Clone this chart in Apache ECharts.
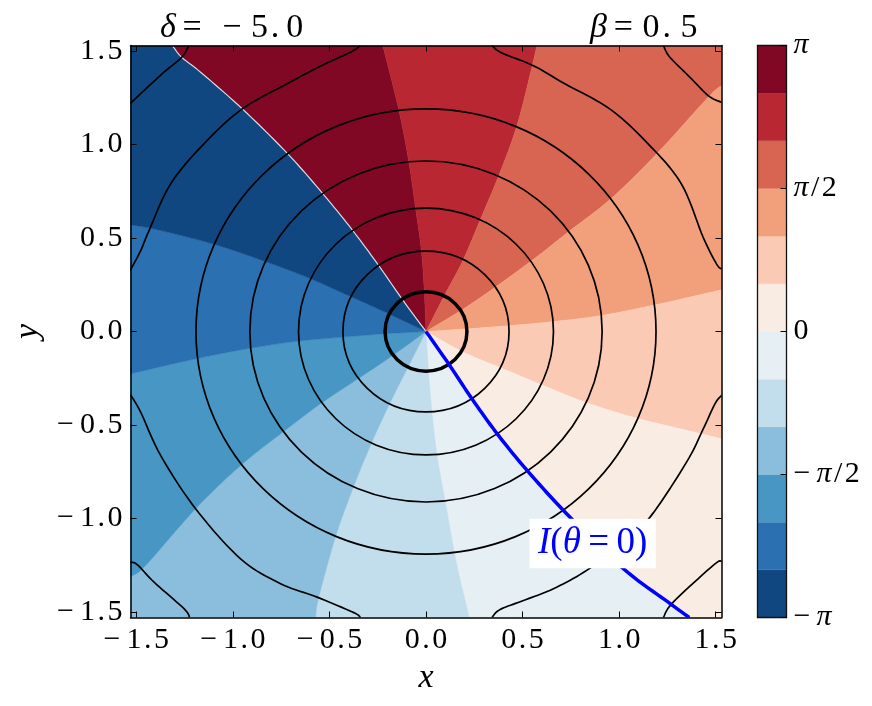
<!DOCTYPE html>
<html>
<head>
<meta charset="utf-8">
<title>phase plot</title>
<script src="https://cdn.jsdelivr.net/npm/echarts@6/dist/echarts.min.js"></script>
<style>
  html, body { margin: 0; padding: 0; background: #fff; }
  #chart { width: 872px; height: 706px; }
</style>
</head>
<body>
<div id="chart"></div>
<script>
var FONT = '"Liberation Serif", serif';
var LIM = 1.53;

var axisTicks = [-1.5, -1.0, -0.5, 0.0, 0.5, 1.0, 1.5];
var axisTickLabels = ['\u22121.5', '\u22121.0', '\u22120.5', '0.0', '0.5', '1.0', '1.5'];

var phaseLevels = [-3.1416, -2.618, -2.0944, -1.5708, -1.0472, -0.5236, 0, 0.5236, 1.0472, 1.5708, 2.0944, 2.618, 3.1416];
var phaseColors = ['#114780', '#2b70b1', '#4896c4', '#8abedc', '#c2ddec', '#e6eff4', '#f9ece3', '#facab4', '#f2a07c', '#d86551', '#b82732', '#800824'];
var phaseTicks = [-3.1416, -1.5708, 0, 1.5708, 3.1416];
var phaseTickLabels = ['\u2212\u2009{i|\u03c0}', '\u2212\u2009{i|\u03c0}\u200a/\u200a2', '0', '{i|\u03c0}\u200a/\u200a2', '{i|\u03c0}'];

// phase level curves, clockwise from the branch cut
var branchCut = [[0, 0], [-0.116, 0.162], [-0.245, 0.353], [-0.383, 0.545], [-0.538, 0.742], [-0.719, 0.954], [-0.951, 1.191], [-1.167, 1.387], [-1.265, 1.467], [-1.313, 1.53]];
var level5pi6 = [[0, 0], [-0.009, 0.219], [-0.024, 0.433], [-0.055, 0.665], [-0.09, 0.914], [-0.142, 1.191], [-0.224, 1.53]];
var level4pi6 = [[0, 0], [0.1, 0.202], [0.191, 0.38], [0.284, 0.606], [0.379, 0.84], [0.471, 1.102], [0.548, 1.413], [0.574, 1.53]];
var level3pi6 = [[0, 0], [0.194, 0.121], [0.358, 0.237], [0.56, 0.389], [0.746, 0.54], [0.957, 0.71], [1.194, 0.95], [1.461, 1.253], [1.53, 1.316]];
var level2pi6 = [[0, 0], [0.212, 0.014], [0.436, 0.032], [0.66, 0.053], [0.91, 0.086], [1.194, 0.144], [1.53, 0.223]];
var level1pi6 = [[0, 0], [0.194, -0.111], [0.401, -0.2], [0.608, -0.289], [0.832, -0.381], [1.091, -0.464], [1.332, -0.524], [1.53, -0.574]];
var level0 = [[0, 0], [0.117, -0.173], [0.238, -0.36], [0.375, -0.556], [0.531, -0.752], [0.737, -0.984], [1.022, -1.269], [1.254, -1.448], [1.363, -1.53]];
var levelM1pi6 = [[0, 0], [0.013, -0.218], [0.031, -0.432], [0.057, -0.663], [0.1, -0.913], [0.16, -1.251], [0.224, -1.53]];
var levelM2pi6 = [[0, 0], [-0.098, -0.2], [-0.193, -0.396], [-0.288, -0.61], [-0.379, -0.841], [-0.469, -1.1], [-0.555, -1.421], [-0.572, -1.53]];
var levelM3pi6 = [[0, 0], [-0.185, -0.137], [-0.348, -0.25], [-0.547, -0.387], [-0.741, -0.538], [-0.96, -0.717], [-1.193, -0.948], [-1.451, -1.251], [-1.53, -1.311]];
var levelM4pi6 = [[0, 0], [-0.21, -0.012], [-0.434, -0.03], [-0.667, -0.052], [-0.908, -0.089], [-1.193, -0.146], [-1.53, -0.226]];
var levelM5pi6 = [[0, 0], [-0.21, 0.103], [-0.403, 0.193], [-0.615, 0.29], [-0.836, 0.376], [-1.103, 0.469], [-1.408, 0.549], [-1.53, 0.57]];

var regionEdges = [branchCut, level5pi6, level4pi6, level3pi6, level2pi6, level1pi6, level0, levelM1pi6, levelM2pi6, levelM3pi6, levelM4pi6, levelM5pi6, branchCut];
var regionColors = ['#800824', '#b82732', '#d86551', '#f2a07c', '#facab4', '#f9ece3', '#e6eff4', '#c2ddec', '#8abedc', '#4896c4', '#2b70b1', '#114780'];
// frame corner that a region has to go round, if any
var regionCorners = [[], [], [[LIM, LIM]], [], [], [[LIM, -LIM]], [], [], [[-LIM, -LIM]], [], [], [[-LIM, LIM]]];

// amplitude contours
var thickRadius = [0.212];
var contourRadii = [0.43, 0.66, 0.912, 1.191];
var contourTopLeft = [[-0.34, 1.53], [-0.391, 1.494], [-0.547, 1.419], [-0.719, 1.325], [-0.951, 1.191], [-1.15, 1.004], [-1.322, 0.79], [-1.434, 0.54], [-1.477, 0.433], [-1.524, 0.341], [-1.53, 0.335]];
var contourTopRight = [[0.341, 1.53], [0.393, 1.49], [0.556, 1.422], [0.719, 1.325], [0.951, 1.191], [1.15, 1.004], [1.322, 0.79], [1.435, 0.504], [1.504, 0.362], [1.53, 0.335]];
var contourBottomRight = [[1.53, -0.342], [1.496, -0.387], [1.436, -0.52], [1.349, -0.699], [1.16, -0.993], [1.01, -1.14], [0.832, -1.278], [0.66, -1.376], [0.505, -1.439], [0.384, -1.487], [0.341, -1.53]];
var contourBottomLeft = [[-1.53, -0.339], [-1.477, -0.432], [-1.374, -0.663], [-1.193, -0.948], [-0.96, -1.216], [-0.753, -1.349], [-0.564, -1.421], [-0.374, -1.504], [-0.34, -1.53]];
var cornerTopLeft = [[-1.53, 1.221], [-1.46, 1.289], [-1.357, 1.387], [-1.265, 1.467], [-1.228, 1.53]];
var cornerTopRight = [[1.229, 1.53], [1.263, 1.467], [1.367, 1.36], [1.461, 1.262], [1.53, 1.226]];
var cornerBottomLeft = [[-1.53, -1.234], [-1.494, -1.248], [-1.408, -1.341], [-1.253, -1.483], [-1.224, -1.53]];
var cornerBottomRight = [[1.53, -1.228], [1.487, -1.251], [1.28, -1.448], [1.229, -1.53]];
var outerContours = [contourTopLeft, contourTopRight, contourBottomRight, contourBottomLeft, cornerTopLeft, cornerTopRight, cornerBottomLeft, cornerBottomRight];

var labelBox = [0.536, -1.002, 1.19, -1.266];

var chart = echarts.init(document.getElementById('chart'), null, { renderer: 'canvas' });

// wide tick text: the tick font here is narrower than the one in the picture
function spaced(label) {
  return label.replace('\u2212', '\u2212\u2009').replace('.', '\u200a.\u200a');
}

function tickName(value) {
  return spaced(axisTickLabels[axisTicks.indexOf(value)]);
}

function mainAxis(position, withLabels, name) {
  return {
    type: 'value', gridIndex: 0, position: position, min: -LIM, max: LIM, z: 10,
    name: withLabels ? name : '', nameLocation: 'middle', nameGap: position == 'left' ? 85 : 44,
    nameTextStyle: { fontFamily: FONT, fontStyle: 'italic', fontSize: 34, color: '#000' },
    splitLine: { show: false },
    axisLine: { onZero: false, lineStyle: { color: '#000', width: 1.5 } },
    axisTick: { inside: true, length: 6, customValues: axisTicks, lineStyle: { color: '#000', width: 1 } },
    axisLabel: {
      show: withLabels, customValues: axisTicks, formatter: tickName, margin: 8,
      fontFamily: FONT, fontSize: 30, color: '#000'
    }
  };
}

function barAxis(position) {
  return {
    type: 'value', gridIndex: 1, position: position, min: 0, max: 1, z: 10,
    splitLine: { show: false }, axisTick: { show: false }, axisLabel: { show: false },
    axisLine: { onZero: false, lineStyle: { color: '#111', width: 1.3 } }
  };
}

// rounds off the read points once they are on screen
function roundOff(pts) {
  var out = [];
  for (var i = 0; i < pts.length - 1; i++) {
    var p0 = pts[Math.max(i - 1, 0)], p1 = pts[i], p2 = pts[i + 1], p3 = pts[Math.min(i + 2, pts.length - 1)];
    for (var s = 0; s < 10; s++) {
      var t = s / 10, t2 = t * t, t3 = t2 * t;
      out.push([0, 1].map(function (k) {
        return 0.5 * (2 * p1[k] + (p2[k] - p0[k]) * t + (2 * p0[k] - 5 * p1[k] + 4 * p2[k] - p3[k]) * t2 + (3 * p1[k] - p0[k] - 3 * p2[k] + p3[k]) * t3);
      }));
    }
  }
  out.push(pts[pts.length - 1]);
  return out;
}

function curveOnScreen(curve, api) {
  return roundOff(curve.map(function (p) { return api.coord(p); }));
}

function regionItem(params, api) {
  var i = params.dataIndex;
  var corners = regionCorners[i].map(function (p) { return api.coord(p); });
  var pts = curveOnScreen(regionEdges[i], api).concat(corners, curveOnScreen(regionEdges[i + 1], api).reverse());
  return {
    type: 'polygon',
    shape: { points: pts },
    style: { fill: regionColors[i], stroke: regionColors[i], lineWidth: 0.5 }
  };
}

function curveItem(curves, color, width) {
  return function (params, api) {
    return {
      type: 'polyline',
      shape: { points: curveOnScreen(curves[params.dataIndex], api) },
      style: { fill: 'none', stroke: color, lineWidth: width }
    };
  };
}

function circleItem(width) {
  return function (params, api) {
    var c = api.coord([0, 0]);
    var size = api.size([api.value(0), api.value(0)]);
    return {
      type: 'ellipse',
      shape: { cx: c[0], cy: c[1], rx: size[0], ry: size[1] },
      style: { fill: 'none', stroke: '#000', lineWidth: width }
    };
  };
}

function barItem(params, api) {
  var i = params.dataIndex;
  var a = api.coord([0, phaseLevels[i]]);
  var b = api.coord([1, phaseLevels[i + 1]]);
  return {
    type: 'rect',
    shape: { x: a[0], y: b[1], width: b[0] - a[0], height: a[1] - b[1] },
    style: { fill: phaseColors[i], stroke: phaseColors[i], lineWidth: 0.3 }
  };
}

function labelItem(params, api) {
  var a = api.coord([labelBox[0], labelBox[1]]);
  var b = api.coord([labelBox[2], labelBox[3]]);
  return {
    type: 'group',
    children: [
      { type: 'rect', shape: { x: a[0], y: a[1], width: b[0] - a[0], height: b[1] - a[1] }, style: { fill: '#fff' } },
      {
        type: 'text',
        x: (a[0] + b[0]) / 2, y: (a[1] + b[1]) / 2,
        style: {
          text: '{i|I}{n|(}{i|\u03b8}{n|\u2009=\u20090)}',
          align: 'center', verticalAlign: 'middle',
          fill: '#0000ff',
          rich: {
            i: { fontFamily: FONT, fontStyle: 'italic', fontSize: 37, fill: '#0000ff' },
            n: { fontFamily: FONT, fontSize: 37, fill: '#0000ff' }
          }
        }
      }
    ]
  };
}

function indexData(list) {
  return list.map(function (c, i) { return [i]; });
}

function plotSeries(data, renderItem, z) {
  return { type: 'custom', xAxisIndex: 0, yAxisIndex: 0, silent: true, clip: true, z: z, data: data, renderItem: renderItem };
}

var series = [
  plotSeries(indexData(regionColors), regionItem, 2),
  plotSeries(indexData([branchCut]), curveItem([branchCut], 'rgba(255,255,255,0.8)', 1.2), 3),
  plotSeries(contourRadii.map(function (r) { return [r]; }), circleItem(1.7), 4),
  plotSeries(thickRadius.map(function (r) { return [r]; }), circleItem(3.5), 4),
  plotSeries(indexData(outerContours), curveItem(outerContours, '#000', 1.7), 4),
  plotSeries(indexData([level0]), curveItem([level0], '#0000ff', 3.5), 5),
  plotSeries([[0]], labelItem, 6),
  {
    type: 'custom', xAxisIndex: 2, yAxisIndex: 2, silent: true,
    data: indexData(phaseColors), renderItem: barItem
  }
];

var titleRich = {
  i: { fontFamily: FONT, fontStyle: 'italic', fontWeight: 'normal', fontSize: 34, color: '#000' },
  n: { fontFamily: FONT, fontWeight: 'normal', fontSize: 34, color: '#000' }
};

var option = {
  animation: false,
  backgroundColor: '#fff',
  title: [
    {
      text: '{i|\u03b4}{n|\u2009=\u2009\u2009\u2009\u2212\u2009\u200a5\u200a.\u20090}', left: 155, top: 6,
      textStyle: { fontWeight: 'normal', rich: titleRich }
    },
    {
      text: '{i|\u03b2}{n|\u2009=\u2009\u200a0\u200a.\u2009\u200a5}', left: 585, top: 6,
      textStyle: { fontWeight: 'normal', rich: titleRich }
    }
  ],
  grid: [
    { left: 130.5, top: 45.5, width: 591, height: 572 },
    { left: 757.5, top: 45.5, width: 29, height: 572 }
  ],
  xAxis: [
    mainAxis('bottom', true, 'x'),
    mainAxis('top', false),
    barAxis('bottom'),
    barAxis('top')
  ],
  yAxis: [
    mainAxis('left', true, 'y'),
    mainAxis('right', false),
    {
      type: 'value', gridIndex: 1, position: 'right', min: -3.1416, max: 3.1416, z: 10,
      splitLine: { show: false },
      axisLine: { onZero: false, lineStyle: { color: '#111', width: 1.3 } },
      axisTick: { inside: true, length: 6, customValues: phaseTicks, lineStyle: { color: '#000', width: 1 } },
      axisLabel: {
        customValues: phaseTicks, margin: 7,
        formatter: function (v) { return phaseTickLabels[phaseTicks.indexOf(v)]; },
        fontFamily: FONT, fontSize: 30, color: '#000',
        rich: { i: { fontFamily: FONT, fontStyle: 'italic', fontSize: 30, color: '#000' } }
      }
    },
    barAxis('left')
  ],
  series: series
};

chart.setOption(option);
</script>
</body>
</html>
